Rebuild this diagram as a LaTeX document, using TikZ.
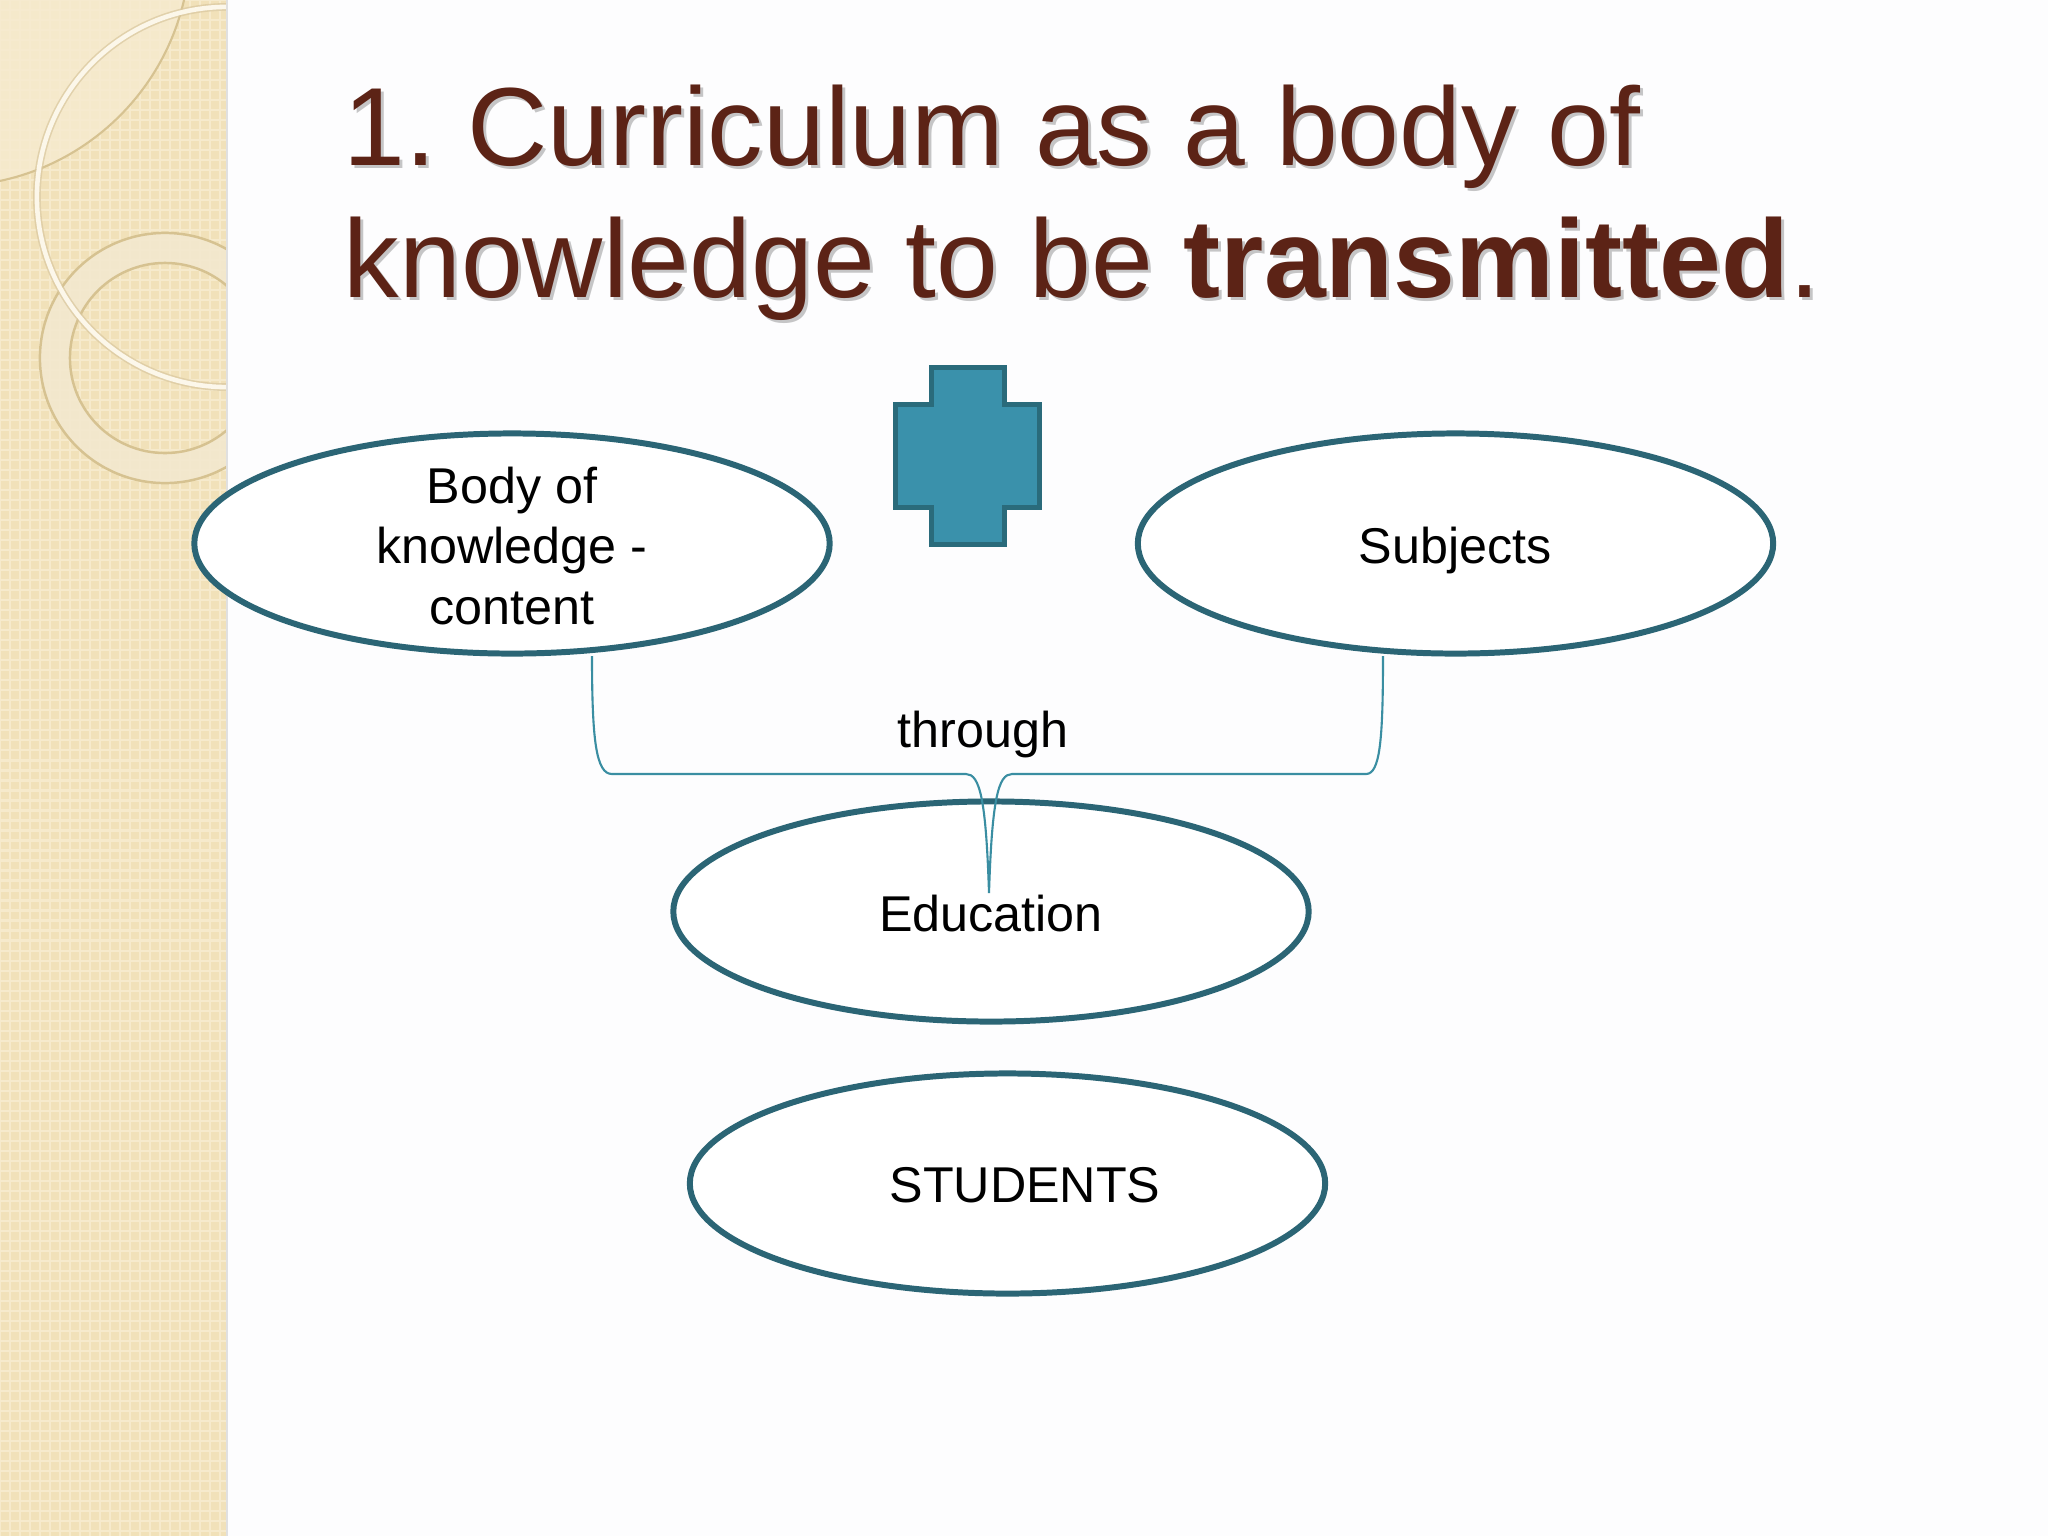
\documentclass[tikz,border=0pt]{standalone}
\usepackage{fontspec}
\setmainfont{Liberation Sans}
\usetikzlibrary{shapes.geometric}
\frenchspacing
\definecolor{ellline}{HTML}{2B6575}
\definecolor{plusfill}{HTML}{3A91AB}
\definecolor{plusline}{HTML}{2A6B7B}
\definecolor{braceline}{HTML}{3A8EA2}
\definecolor{titlecol}{HTML}{5C2316}
\definecolor{stripbase}{HTML}{F1E1B9}
\definecolor{stripgrid}{HTML}{F6EACC}
\definecolor{lenscol}{HTML}{F6EBD0}
\definecolor{ringcol}{HTML}{F3E8CF}
\definecolor{ringedge}{HTML}{D6C291}
\definecolor{arcdark}{HTML}{D9C79E}
\definecolor{arclight}{HTML}{FCF7EA}
\definecolor{slidebg}{HTML}{FDFDFE}
\begin{document}
\begin{tikzpicture}[x=0.01cm,y=-0.01cm,
  ell/.style={ellipse, draw=ellline, line width=1.7pt, fill=white,
    minimum width=6.35cm, minimum height=2.2cm, inner sep=0pt},
  lbl/.style={font=\fontsize{14.3}{17.2}\selectfont, inner sep=0pt, align=center, text=black},
  titlestyle/.style={font=\fontsize{31.6}{37.6}\selectfont, inner sep=0pt, anchor=base west, text=titlecol},
  shadowstyle/.style={font=\fontsize{31.6}{37.6}\selectfont, inner sep=0pt, anchor=base west, text=black, opacity=0.22},
  brace/.style={draw=braceline, line width=0.6pt}]
\useasboundingbox (0,0) rectangle (2048,1536);
\fill[slidebg] (0,0) rectangle (2048,1536);
% decorative strip
\begin{scope}
  \clip (0,0) rectangle (227,1536);
  \fill[stripbase] (0,0) rectangle (227,1536);
  \draw[stripgrid, line width=0.6pt, step=1mm] (0,0) grid (227,1536);
  \fill[lenscol, opacity=0.8] (-50,-54) circle[radius=2.4cm];
  \draw[ringedge, line width=0.6pt] (-50,-54) circle[radius=2.4cm];
  \fill[ringcol, even odd rule, opacity=0.9] (165,358) circle[radius=1.25cm] (165,358) circle[radius=0.95cm];
  \draw[ringedge, line width=0.7pt] (165,358) circle[radius=1.25cm] (165,358) circle[radius=0.95cm];
  \draw[arcdark, line width=2.2pt, opacity=0.7] (227,197) circle[radius=1.9cm];
  \draw[arclight, line width=1.3pt] (227,197) circle[radius=1.9cm];
\end{scope}
\draw[black!12, line width=0.6pt] (227,0) -- (227,1536);
% title
\node[shadowstyle] at (346,168) {1. Curriculum as a body of};
\node[shadowstyle] at (346,300) {knowledge to be \textbf{transmitted}.};
\node[titlestyle] (title1) at (343,165) {1. Curriculum as a body of};
\node[titlestyle] (title2) at (343,297) {knowledge to be \textbf{transmitted}.};
% plus shape
\filldraw[fill=plusfill, draw=plusline, line width=1.4pt]
  (931.5,367.5) -- (1004.5,367.5) -- (1004.5,404.5) -- (1039.5,404.5) -- (1039.5,507.5)
  -- (1004.5,507.5) -- (1004.5,544.5) -- (931.5,544.5) -- (931.5,507.5) -- (895.5,507.5)
  -- (895.5,404.5) -- (931.5,404.5) -- cycle;
% ellipses
\node[ell] (body) at (512,543.5) {};
\node[ell] (subj) at (1455.5,543.5) {};
\node[ell] (edu) at (991,911.5) {};
\node[ell] (stud) at (1007.5,1183.5) {};
% labels
\node[lbl, anchor=north] (tbody) at (512,466) {Body of\\knowledge -\\content};
\node[lbl, anchor=base] (tsubj) at (1455,563) {Subjects};
\node[lbl, anchor=base] (tedu) at (991,931) {Education};
\node[lbl, anchor=base] (tstud) at (1025,1202) {STUDENTS};
\node[lbl, anchor=base] (tthrough) at (983,747) {through};
% brace
\coordinate (bL) at (592,656);
\coordinate (bR) at (1383,656);
\coordinate (bTip) at (989,893);
\draw[brace] (bL) .. controls (592,740) and (596,774) .. (612,774) -- (966,774)
  .. controls (980,774) and (986,800) .. (bTip)
  .. controls (992,800) and (998,774) .. (1012,774) -- (1366,774)
  .. controls (1380,774) and (1383,740) .. (bR);
\end{tikzpicture}
\end{document}
